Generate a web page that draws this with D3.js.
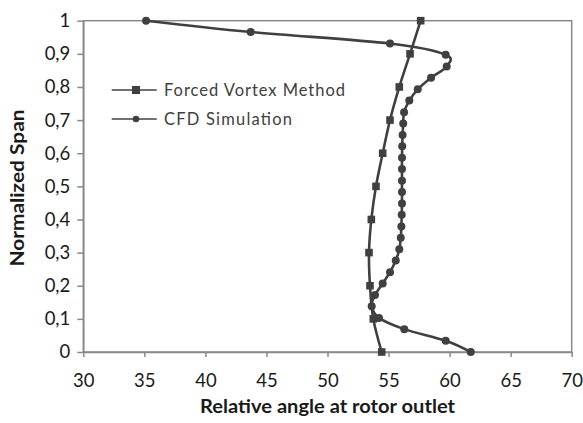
<!DOCTYPE html>
<html>
<head>
<meta charset="utf-8">
<title>Relative angle at rotor outlet</title>
<style>
  body { margin: 0; background: #fff; }
  svg { display: block; font-family: Lato, "Open Sans", sans-serif; }
</style>
</head>
<body>
<script src="https://cdnjs.cloudflare.com/ajax/libs/d3/7.8.5/d3.min.js"></script>
<script>

// forced vortex method: one value per tenth of span
var fvSpan  = [0, 0.1, 0.2, 0.3, 0.4, 0.5, 0.6, 0.7, 0.8, 0.9, 1];
var fvAngle = [54.44, 53.75, 53.48, 53.40, 53.59, 53.97, 54.52, 55.12, 55.88, 56.76, 57.63];

// CFD simulation
var cfdSpan  = [0, 0.034, 0.069, 0.103, 0.138, 0.172, 0.207, 0.241, 0.276, 0.310,
                0.345, 0.379, 0.414, 0.448, 0.483, 0.517, 0.552, 0.586, 0.621, 0.655,
                0.690, 0.724, 0.759, 0.793, 0.828, 0.862, 0.897, 0.931, 0.966, 1];
var cfdAngle = [61.73, 59.68, 56.29, 54.22, 53.62, 53.89, 54.52, 55.12, 55.59, 55.88,
                56.00, 56.05, 56.08, 56.10, 56.10, 56.10, 56.10, 56.10, 56.12, 56.15,
                56.20, 56.27, 56.70, 57.39, 58.48, 59.76, 59.68, 55.12, 43.71, 35.14];

var xTicks = [30, 35, 40, 45, 50, 55, 60, 65, 70];
var yTicks = [0, 0.1, 0.2, 0.3, 0.4, 0.5, 0.6, 0.7, 0.8, 0.9, 1];
var yTickLabels = ["0", "0,1", "0,2", "0,3", "0,4", "0,5", "0,6", "0,7", "0,8", "0,9", "1"];
var seriesNames = ["Forced Vortex Method", "CFD Simulation"];

var w = 583, h = 423;
var ink = "#404040", frame = "#898989";

var svg = d3.select("body").append("svg")
    .attr("width", w)
    .attr("height", h);

svg.append("rect").attr("width", w).attr("height", h).attr("fill", "#fff");

var x = d3.scaleLinear().domain([30, 70]).range([83.3, 571.7]);
var y = d3.scaleLinear().domain([0, 1]).range([352, 20.7]);

// plot area border (top + right)
svg.append("rect")
    .attr("x", x(30)).attr("y", y(1))
    .attr("width", x(70) - x(30)).attr("height", y(0) - y(1))
    .attr("fill", "none").attr("stroke", frame).attr("stroke-width", 1.5);

var xAxis = svg.append("g")
    .attr("transform", "translate(0," + y(0) + ")")
    .call(d3.axisBottom(x).tickValues(xTicks).tickSize(5).tickPadding(17).tickSizeOuter(0));

var yAxis = svg.append("g")
    .attr("transform", "translate(" + x(30) + ",0)")
    .call(d3.axisLeft(y).tickValues(yTicks).tickSize(6).tickPadding(7).tickSizeOuter(0)
        .tickFormat(function(d, i) { return yTickLabels[i]; }));

[xAxis, yAxis].forEach(function(g) {
    g.select(".domain").attr("stroke", frame).attr("stroke-width", 1.5);
    g.selectAll(".tick line").attr("stroke", frame).attr("stroke-width", 1.5);
    g.selectAll(".tick text")
        .attr("fill", "#1a1a1a")
        .attr("font-size", "18.5px")
        .attr("font-family", "Lato, sans-serif");
});

// axis titles
svg.append("text")
    .attr("x", (x(30) + x(70)) / 2)
    .attr("y", 413)
    .attr("text-anchor", "middle")
    .attr("font-size", "18px")
    .attr("font-weight", "bold")
    .attr("fill", "#1a1a1a")
    .attr("textLength", 255)
    .attr("lengthAdjust", "spacingAndGlyphs")
    .text("Relative angle at rotor outlet");

svg.append("text")
    .attr("transform", "translate(24,188) rotate(-90)")
    .attr("text-anchor", "middle")
    .attr("font-size", "18px")
    .attr("font-weight", "bold")
    .attr("fill", "#1a1a1a")
    .attr("textLength", 157)
    .attr("lengthAdjust", "spacingAndGlyphs")
    .text("Normalized Span");

// lines
var fvData = fvSpan.map(function(s, i) { return { s: s, a: fvAngle[i] }; });
var cfdData = cfdSpan.map(function(s, i) { return { s: s, a: cfdAngle[i] }; });

var line = d3.line()
    .x(function(d) { return x(d.a); })
    .y(function(d) { return y(d.s); })
    .curve(d3.curveCardinal.tension(0));

svg.append("path").datum(fvData)
    .attr("d", line).attr("fill", "none")
    .attr("stroke", ink).attr("stroke-width", 2.6);

svg.append("path").datum(cfdData)
    .attr("d", line).attr("fill", "none")
    .attr("stroke", ink).attr("stroke-width", 2.6);

svg.selectAll("rect.fv")
    .data(fvData)
    .enter()
    .append("rect")
    .attr("class", "fv")
    .attr("x", function(d) { return x(d.a) - 3.8; })
    .attr("y", function(d) { return y(d.s) - 3.8; })
    .attr("width", 7.6).attr("height", 7.6)
    .attr("fill", ink);

svg.selectAll("circle.cfd")
    .data(cfdData)
    .enter()
    .append("circle")
    .attr("class", "cfd")
    .attr("cx", function(d) { return x(d.a); })
    .attr("cy", function(d) { return y(d.s); })
    .attr("r", 4)
    .attr("fill", ink);

// legend
var legend = svg.append("g");
var rowY = [90, 119];

legend.selectAll("line")
    .data(seriesNames)
    .enter()
    .append("line")
    .attr("x1", 111.7).attr("x2", 156.7)
    .attr("y1", function(d, i) { return rowY[i]; })
    .attr("y2", function(d, i) { return rowY[i]; })
    .attr("stroke", ink).attr("stroke-width", 1.5);

legend.append("rect")
    .attr("x", 136 - 4).attr("y", rowY[0] - 4)
    .attr("width", 8).attr("height", 8)
    .attr("fill", ink);

legend.append("circle")
    .attr("cx", 136).attr("cy", rowY[1])
    .attr("r", 3.3)
    .attr("fill", ink);

var legendWidths = [181, 128];
legend.selectAll("text")
    .data(seriesNames)
    .enter()
    .append("text")
    .attr("x", 164)
    .attr("y", function(d, i) { return rowY[i] + 6; })
    .attr("font-size", "16.5px")
    .attr("fill", ink)
    .attr("textLength", function(d, i) { return legendWidths[i]; })
    .attr("lengthAdjust", "spacing")
    .text(function(d) { return d; });

</script>
</body>
</html>
